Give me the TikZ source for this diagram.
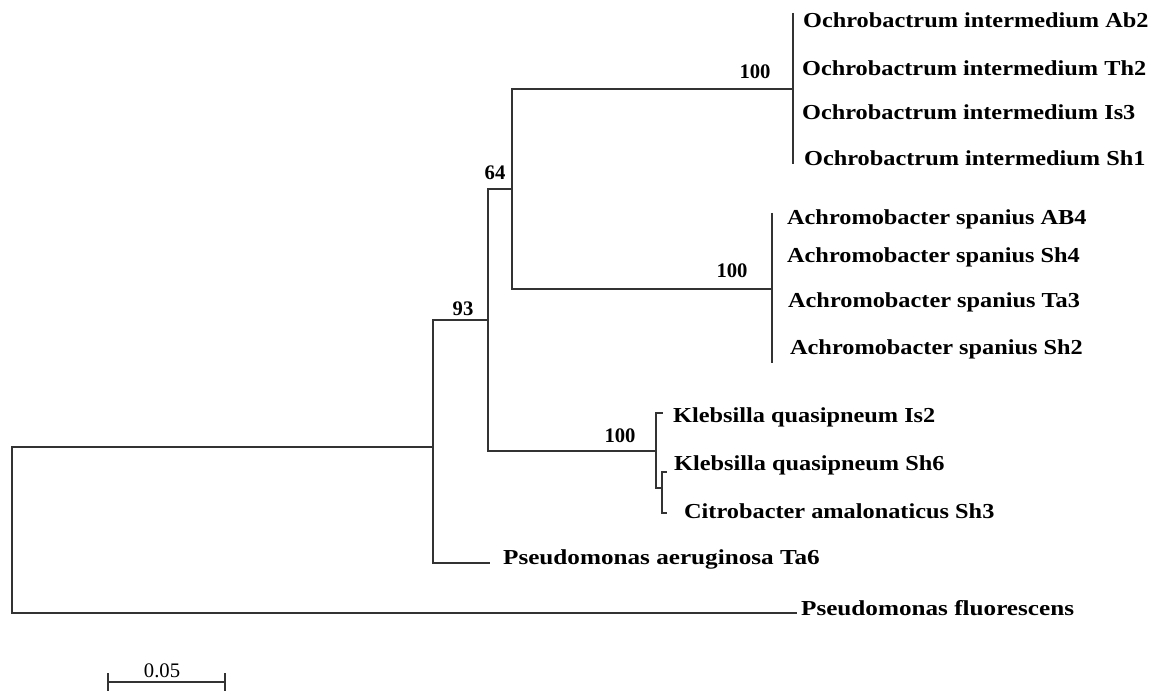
\documentclass[tikz,border=0pt]{standalone}
\usepackage{fontspec}
\setmainfont{Liberation Serif}
\newfontfamily\taxfont{Liberation Serif}[FakeStretch=1.14]
\newfontfamily\widefont{Liberation Serif}[FakeStretch=1.18]
\usepackage{tikz}

\begin{document}
\begin{tikzpicture}[x=0.75pt,y=-0.75pt,line width=1.7pt,
    branch/.style={draw=black!80},
    taxon/.style={anchor=base west,inner sep=0pt,font=\taxfont\fontsize{16}{18}\selectfont\bfseries},
    boot/.style={anchor=base,inner sep=0pt,font=\fontsize{15.5}{17}\selectfont\bfseries}]
\useasboundingbox (0,0) rectangle (1154,695);
% inner nodes of the tree
\coordinate (root) at (12,530);
\coordinate (n93) at (433,447);
\coordinate (n64) at (488,320);
\coordinate (nOA) at (512,189);
\coordinate (nO) at (793,89);
\coordinate (nA) at (772,289);
\coordinate (nK) at (656,451);
\coordinate (nKC) at (662,488);
% leaves
\coordinate (tPf) at (797,613);
\coordinate (tTa6) at (490,563);
\coordinate (tIs2) at (663,413);
\coordinate (tSh6) at (667,472);
\coordinate (tSh3) at (667,513);
\foreach \y/\n in {13/1,164/4}{\coordinate (tO\n) at (793,\y);}
\foreach \y/\n in {213/1,363/4}{\coordinate (tA\n) at (772,\y);}
% branches
\draw[branch] (root) |- (n93); \draw[branch] (root) |- (tPf);
\draw[branch] (n93) |- (n64); \draw[branch] (n93) |- (tTa6);
\draw[branch] (n64) |- (nOA); \draw[branch] (n64) |- (nK);
\draw[branch] (nOA) |- (nO); \draw[branch] (nOA) |- (nA);
\draw[branch] (tO1) -- (tO4);
\draw[branch] (tA1) -- (tA4);
\draw[branch] (nK) |- (tIs2); \draw[branch] (nK) |- (nKC);
\draw[branch] (nKC) |- (tSh6); \draw[branch] (nKC) |- (tSh3);
% taxa
\foreach \x/\y/\n/\s in {802/28/1/Ab2,801/76/2/Th2,801/120/3/Is3,803/166/4/Sh1}{
  \node[taxon] (lO\n) at (\x,\y) {Ochrobactrum intermedium \s};}
\foreach \x/\y/\n/\s in {786/225/1/AB4,786/263/2/Sh4,787/308/3/Ta3,789/355/4/Sh2}{
  \node[taxon] (lA\n) at (\x,\y) {Achromobacter spanius \s};}
\node[taxon] (lIs2) at (672,423) {Klebsilla quasipneum Is2};
\node[taxon] (lSh6) at (673,470) {Klebsilla quasipneum Sh6};
\node[taxon] (lSh3) at (683,518) {Citrobacter amalonaticus Sh3};
\node[taxon,font=\widefont\fontsize{16}{18}\selectfont\bfseries] (lTa6) at (502,564) {Pseudomonas aeruginosa Ta6};
\node[taxon,font=\widefont\fontsize{16}{18}\selectfont\bfseries] (lPf) at (800,615) {Pseudomonas fluorescens};
% bootstrap values
\node[boot] (b1) at (755,79) {100};
\node[boot] (b2) at (732,278) {100};
\node[boot] (b3) at (495,180) {64};
\node[boot] (b4) at (463,316) {93};
\node[boot] (b5) at (620,442) {100};
% scale bar
\coordinate (s1) at (108,682);
\coordinate (s2) at (225,682);
\draw[branch,line width=2.2pt] (s1) -- (s2);
\draw[branch] (s1) ++(0,-9) -- ++(0,18);
\draw[branch] (s2) ++(0,-9) -- ++(0,18);
\node[anchor=base,inner sep=0pt,font=\fontsize{15.5}{17}\selectfont] (sLabel) at (162,677) {0.05};
\end{tikzpicture}
\end{document}
